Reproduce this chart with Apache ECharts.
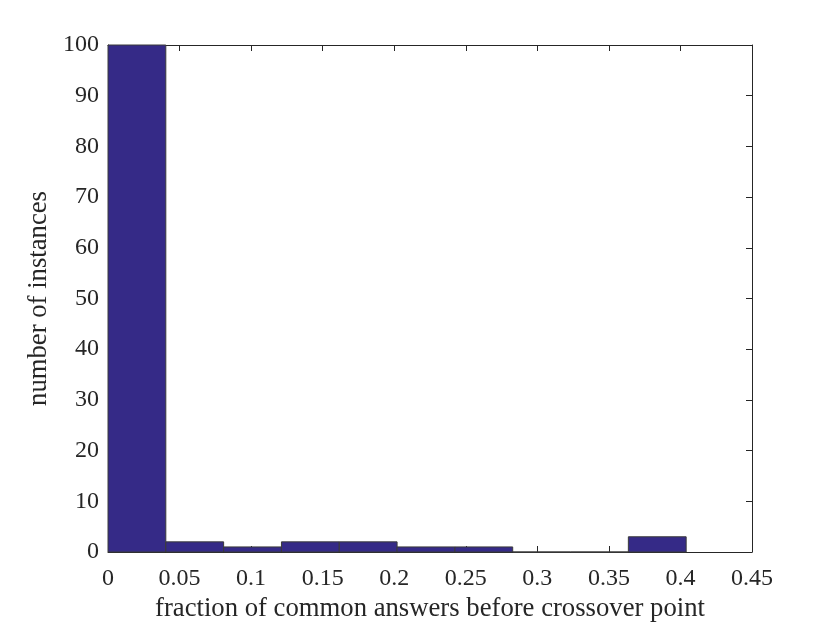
<!DOCTYPE html>
<html>
<head>
<meta charset="utf-8">
<script src="https://cdn.jsdelivr.net/npm/echarts@6/dist/echarts.min.js"></script>
<style>html,body{margin:0;padding:0;background:#fff;}#c{width:830px;height:623px;}</style>
</head>
<body>
<div id="c"></div>
<script>
// Histogram bin edges and counts per bin
var binEdges = [0, 0.0404, 0.0808, 0.1212, 0.1616, 0.202, 0.2424, 0.2828, 0.3232, 0.3636, 0.404];
var counts = [100, 2, 1, 2, 2, 1, 1, 0, 0, 3];
var xTicks = [0, 0.05, 0.1, 0.15, 0.2, 0.25, 0.3, 0.35, 0.4, 0.45];
var yTicks = [0, 10, 20, 30, 40, 50, 60, 70, 80, 90, 100];
var xTitle = 'fraction of common answers before crossover point';
var yTitle = 'number of instances';

var data = counts.map(function (c, i) { return [binEdges[i], binEdges[i + 1], c]; });
var font = 'Liberation Serif';
var chart = echarts.init(document.getElementById('c'), null, { renderer: 'canvas' });
function line() { return { show: true, onZero: false, lineStyle: { color: '#262626', width: 1 } }; }
var tick = { show: true, inside: true, length: 6, lineStyle: { color: '#262626' } };
chart.setOption({
  animation: false,
  grid: { left: 108, right: 78, top: 45, bottom: 71, containLabel: false, outerBoundsMode: 'none' },
  xAxis: [{
    type: 'value', min: xTicks[0], max: xTicks[xTicks.length - 1], interval: 0.05,
    axisLine: line(), axisTick: tick, splitLine: { show: false },
    axisLabel: { fontFamily: font, fontSize: 24, color: '#262626', margin: 15,
      formatter: function (v) { return String(+v.toFixed(2)); } },
    name: xTitle, nameLocation: 'middle', nameGap: 42,
    nameTextStyle: { fontFamily: font, fontSize: 26.7, color: '#262626' }
  }, {
    type: 'value', position: 'top', min: xTicks[0], max: xTicks[xTicks.length - 1], interval: 0.05,
    axisLine: line(), axisTick: tick, axisLabel: { show: false }, splitLine: { show: false }
  }],
  yAxis: [{
    type: 'value', min: yTicks[0], max: yTicks[yTicks.length - 1], interval: 10,
    axisLine: line(), axisTick: tick, splitLine: { show: false },
    axisLabel: { fontFamily: font, fontSize: 24, color: '#262626', margin: 9 },
    name: yTitle, nameLocation: 'middle', nameGap: 48,
    nameTextStyle: { fontFamily: font, fontSize: 26.7, color: '#262626' }
  }, {
    type: 'value', position: 'right', min: yTicks[0], max: yTicks[yTicks.length - 1], interval: 10,
    axisLine: line(), axisTick: tick, axisLabel: { show: false }, splitLine: { show: false }
  }],
  series: [{
    type: 'custom',
    xAxisIndex: 0, yAxisIndex: 0,
    data: data,
    encode: { x: [0, 1], y: 2 },
    renderItem: function (params, api) {
      var p0 = api.coord([api.value(0), 0]);
      var p1 = api.coord([api.value(1), api.value(2)]);
      return {
        type: 'rect',
        shape: { x: p0[0], y: p1[1], width: p1[0] - p0[0], height: p0[1] - p1[1] },
        style: { fill: '#352a87', stroke: '#3a3a3a', lineWidth: 1 }
      };
    },
    z: 1
  }]
});
</script>
</body>
</html>
